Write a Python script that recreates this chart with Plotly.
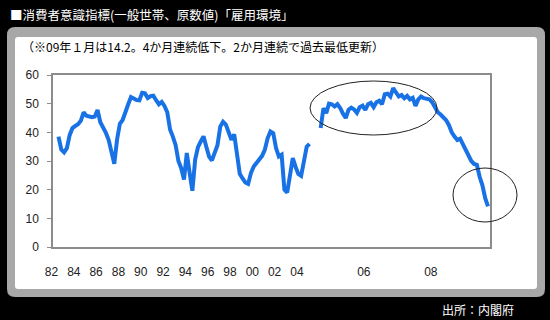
import plotly.graph_objects as go

# ---- data ----
quarterly_values = [
    38.5, 34.0, 33.0, 34.5, 39.0, 41.5, 42.2, 42.8, 44.0, 47.0,
    45.8, 45.5, 45.3, 45.5, 47.8, 43.5, 41.8, 39.8, 37.3, 33.5,
    29.0, 37.5, 43.0, 44.3, 47.5, 49.8, 52.3, 51.6, 51.3, 51.2,
    53.8, 53.6, 52.0, 52.6, 52.8, 51.2, 49.8, 50.6, 49.2, 47.0,
    41.0, 38.5, 35.5, 30.0, 27.5, 23.5, 32.8, 26.0, 19.6, 30.5,
    34.8, 36.8, 38.6, 35.0, 31.5, 30.2, 32.5, 35.5, 42.0, 43.7,
    42.7, 39.5, 37.4, 39.3, 33.0, 25.5, 23.9, 22.5, 22.0, 25.8,
    28.1, 29.2, 30.3, 31.8, 34.0, 38.0, 40.3, 39.7, 34.5, 31.6,
    32.2, 20.0, 19.0, 25.0, 31.0, 28.0, 25.5, 24.8, 29.5, 35.0,
    36.0,
]
gap_points = 3
monthly_values = [
    41.5, 48.4, 46.7, 50.0, 49.8, 49.0, 49.8, 48.5, 46.5, 45.0,
    47.9, 48.6, 48.0, 46.8, 48.8, 49.3, 47.8, 49.8, 50.3, 48.8,
    50.5, 51.0, 49.8, 53.3, 53.5, 52.5, 55.4, 54.0, 52.5, 53.0,
    51.9, 52.7, 51.5, 52.0, 49.2, 51.5, 52.5, 51.9, 51.8, 51.5,
    50.5, 48.5, 47.0, 46.2, 45.4, 44.2, 42.5, 40.0, 38.5, 37.3,
    37.8, 35.8, 33.8, 32.0, 30.0, 29.0, 28.7, 24.5, 21.5, 17.0,
    14.2,
]
x_tick_labels = ["82", "84", "86", "88", "90", "92", "94", "96", "98", "00",
                 "02", "04", "06", "08"]
y_ticks = [0, 10, 20, 30, 40, 50, 60]

title_text = "■消費者意識指標(一般世帯、原数値)「雇用環境」"
note_text = "（※09年１月は14.2。4か月連続低下。2か月連続で過去最低更新）"
source_text = "出所：内閣府"

# ---- build series on a category-index axis ----
nq = len(quarterly_values)
x_q = list(range(nq))
x_m = list(range(nq + gap_points, nq + gap_points + len(monthly_values)))
xs = x_q + [None] + x_m
ys = quarterly_values + [None] + monthly_values

# tick positions: every 8 quarters, then every 24 months
tick_positions = [8 * k for k in range(12)]
tick_positions += [tick_positions[-1] + 24, tick_positions[-1] + 48]

# ---- pixel geometry helpers ----
W, H = 550, 320
L, R, T, B = 53, 490, 75, 247


def px(x):
    return (x - L) / (R - L)


def py(y):
    return (B - y) / (B - T)


def rounded_rect(x0, y0, x1, y1, r):
    pts = [
        f"M {px(x0 + r)} {py(y0)}",
        f"L {px(x1 - r)} {py(y0)}",
        f"Q {px(x1)} {py(y0)} {px(x1)} {py(y0 + r)}",
        f"L {px(x1)} {py(y1 - r)}",
        f"Q {px(x1)} {py(y1)} {px(x1 - r)} {py(y1)}",
        f"L {px(x0 + r)} {py(y1)}",
        f"Q {px(x0)} {py(y1)} {px(x0)} {py(y1 - r)}",
        f"L {px(x0)} {py(y0 + r)}",
        f"Q {px(x0)} {py(y0)} {px(x0 + r)} {py(y0)}",
        "Z",
    ]
    return " ".join(pts)


x_last = x_m[-1]
step_px = 2.789
x_range = [-(58.5 - L) / step_px, x_last + (R - 488.0) / step_px]

fig = go.Figure()
fig.add_trace(go.Scatter(
    x=xs, y=ys, mode="lines", connectgaps=False,
    line=dict(color="#1872E6", width=4),
    hoverinfo="skip", showlegend=False,
))

axis_font = dict(family="Liberation Sans, Arial, sans-serif", size=12, color="#222222")
cjk = "Noto Sans CJK JP, sans-serif"

fig.update_layout(
    width=W, height=H,
    margin=dict(l=L, r=W - R, t=T, b=H - B, pad=0),
    paper_bgcolor="#000000",
    plot_bgcolor="#ffffff",
    showlegend=False,
    xaxis=dict(
        range=x_range, tickvals=tick_positions, ticktext=x_tick_labels,
        ticks="", showgrid=False, zeroline=False,
        showline=True, mirror=True, linecolor="#8c8c8c", linewidth=1.5,
        tickfont=axis_font, ticklabelshift=-7, ticklabelstandoff=13,
    ),
    yaxis=dict(
        range=[0, 60], tickvals=y_ticks, ticks="outside", ticklen=4,
        tickcolor="#8c8c8c", showgrid=False, zeroline=False,
        showline=True, mirror=True, linecolor="#8c8c8c", linewidth=1.5,
        tickfont=axis_font, ticklabelstandoff=6,
    ),
    shapes=[
        dict(type="path", xref="paper", yref="paper", layer="below",
             path=rounded_rect(7, 27, 545, 297, 8),
             fillcolor="#a8a8a8", line=dict(width=0)),
        dict(type="path", xref="paper", yref="paper", layer="below",
             path=rounded_rect(15, 37, 537, 289, 3),
             fillcolor="#ffffff", line=dict(width=0)),
        dict(type="circle", xref="paper", yref="paper", layer="above",
             x0=px(310), x1=px(437), y0=py(135), y1=py(81),
             line=dict(color="#222222", width=1)),
        dict(type="circle", xref="paper", yref="paper", layer="above",
             x0=px(453), x1=px(517), y0=py(222), y1=py(168),
             line=dict(color="#222222", width=1)),
    ],
    annotations=[
        dict(text=title_text, xref="paper", yref="paper", x=px(8), y=py(14),
             xanchor="left", yanchor="middle", showarrow=False,
             font=dict(family=cjk, size=12.5, color="#ffffff")),
        dict(text=note_text, xref="paper", yref="paper", x=px(20), y=py(47),
             xanchor="left", yanchor="middle", showarrow=False,
             font=dict(family=cjk, size=12, color="#000000")),
        dict(text=source_text, xref="paper", yref="paper", x=px(516), y=py(309),
             xanchor="right", yanchor="middle", showarrow=False,
             font=dict(family=cjk, size=12, color="#ffffff")),
    ],
)

fig.write_html("out.html")
